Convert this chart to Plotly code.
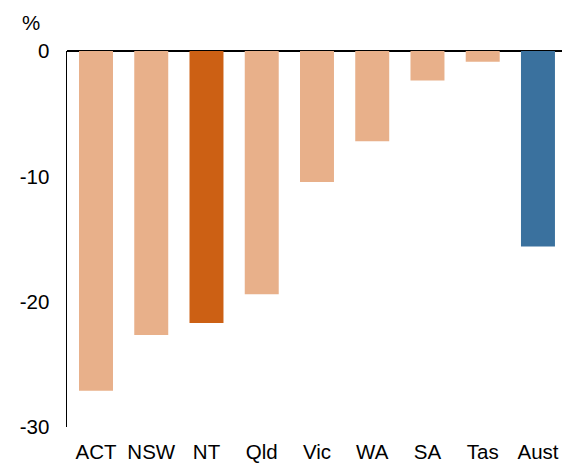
import plotly.graph_objects as go

categories = ["ACT", "NSW", "NT", "Qld", "Vic", "WA", "SA", "Tas", "Aust"]
values = [-27.1, -22.65, -21.7, -19.4, -10.45, -7.2, -2.35, -0.85, -15.6]
colors = ["#E8B08A", "#E8B08A", "#CC6014", "#E8B08A", "#E8B08A",
          "#E8B08A", "#E8B08A", "#E8B08A", "#3A719E"]
y_ticks = [0, -10, -20, -30]

font = dict(family="Liberation Sans, Arial, sans-serif", size=20.5, color="#000000")

fig = go.Figure(go.Bar(x=list(range(len(categories))), y=values,
                       marker=dict(color=colors, line=dict(width=0)), width=0.615,
                       hoverinfo="skip"))

fig.update_layout(
    width=562, height=464,
    margin=dict(l=67, r=0, t=51, b=37, pad=0),
    paper_bgcolor="white", plot_bgcolor="white",
    font=font, showlegend=False,
    xaxis=dict(range=[-0.525, 8.435], tickvals=list(range(len(categories))),
               ticktext=categories, showgrid=False, zeroline=False,
               showline=False, ticks="", ticklabelstandoff=10, fixedrange=True),
    yaxis=dict(range=[-30, 0], tickvals=y_ticks, ticktext=[str(v) for v in y_ticks],
               showgrid=False, zeroline=True, zerolinecolor="#000000", zerolinewidth=1.5,
               showline=True, linecolor="#000000", linewidth=1.5, ticks="",
               ticklabelstandoff=12, fixedrange=True),
    annotations=[dict(text="%", xref="paper", yref="paper", x=0, y=1.0,
                      xanchor="center", yanchor="middle", xshift=-36.5, yshift=28.5,
                      showarrow=False, font=font)],
)

fig.write_html(
    "out.html",
    config={"displayModeBar": False, "staticPlot": True},
    post_script="document.body.style.margin='0';document.body.style.overflow='hidden';",
)
